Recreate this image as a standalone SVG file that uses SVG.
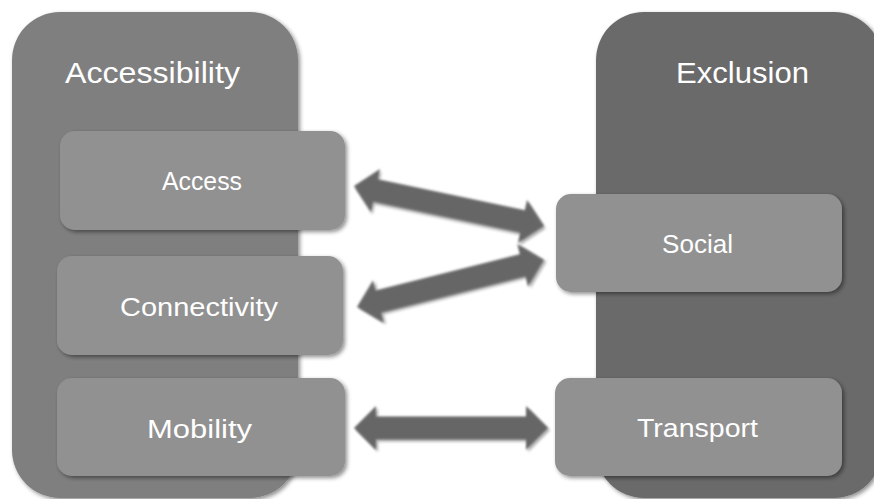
<svg xmlns="http://www.w3.org/2000/svg" width="874" height="499" viewBox="0 0 874 499">
  <defs>
    <style>
      .panel-l { fill: #7f7f7f; }
      .panel-r { fill: #6a6a6a; }
      .box { fill: #919191; }
      .arrow { fill: #666666; }
      .title { font-family: "Liberation Sans", Arial, sans-serif; font-size: 29px; fill: #ffffff; }
      .label { font-family: "Liberation Sans", Arial, sans-serif; font-size: 26px; fill: #ffffff; }
    </style>
    <filter id="shadow" x="-10%" y="-10%" width="120%" height="120%">
      <feDropShadow dx="2" dy="2" stdDeviation="2" flood-color="#000000" flood-opacity="0.45"/>
    </filter>
    <filter id="soft" x="-10%" y="-30%" width="120%" height="160%">
      <feGaussianBlur in="SourceAlpha" stdDeviation="1.5" result="b"/>
      <feOffset in="b" dx="1.5" dy="1.5" result="o"/>
      <feComponentTransfer in="o" result="s"><feFuncA type="linear" slope="0.35"/></feComponentTransfer>
      <feGaussianBlur in="SourceGraphic" stdDeviation="0.8" result="g"/>
      <feMerge><feMergeNode in="s"/><feMergeNode in="g"/></feMerge>
    </filter>
  </defs>

  <rect width="874" height="499" fill="#ffffff"/>

  <!-- Outer panels -->
  <g id="accessibility">
    <rect class="panel-l" x="12" y="12" width="286" height="486" rx="48" filter="url(#shadow)"/>
    <text class="title" x="65" y="83" textLength="175" lengthAdjust="spacingAndGlyphs">Accessibility</text>
  </g>
  <g id="exclusion">
    <rect class="panel-r" x="596" y="12" width="286" height="486" rx="48" filter="url(#shadow)"/>
    <text class="title" x="676" y="83" textLength="133" lengthAdjust="spacingAndGlyphs">Exclusion</text>
  </g>

  <!-- Inner boxes -->
  <g id="access">
    <rect class="box" x="60" y="131" width="285" height="99" rx="15" filter="url(#shadow)"/>
    <text class="label" x="162" y="190" textLength="80" lengthAdjust="spacingAndGlyphs">Access</text>
  </g>
  <g id="connectivity">
    <rect class="box" x="57" y="256" width="286" height="99" rx="15" filter="url(#shadow)"/>
    <text class="label" x="120" y="316" textLength="158" lengthAdjust="spacingAndGlyphs">Connectivity</text>
  </g>
  <g id="mobility">
    <rect class="box" x="57" y="378" width="288" height="98" rx="15" filter="url(#shadow)"/>
    <text class="label" x="147" y="438" textLength="105" lengthAdjust="spacingAndGlyphs">Mobility</text>
  </g>
  <g id="social">
    <rect class="box" x="556" y="194" width="286" height="98" rx="15" filter="url(#shadow)"/>
    <text class="label" x="662" y="253" textLength="71" lengthAdjust="spacingAndGlyphs">Social</text>
  </g>
  <g id="transport">
    <rect class="box" x="555" y="378" width="287" height="98" rx="15" filter="url(#shadow)"/>
    <text class="label" x="637" y="437" textLength="121" lengthAdjust="spacingAndGlyphs">Transport</text>
  </g>

  <!-- Double-headed connectors -->
  <g id="connectors">
    <path class="arrow" filter="url(#soft)" transform="translate(354 186) rotate(11.89)"
          d="M0,0 L22,-22 L22,-11.5 L172.2,-11.5 L172.2,-22 L194.2,0 L172.2,22 L172.2,11.5 L22,11.5 L22,22 Z"/>
    <path class="arrow" filter="url(#soft)" transform="translate(357 307) rotate(-14.11)"
          d="M0,0 L22,-22 L22,-11.5 L170.8,-11.5 L170.8,-22 L192.8,0 L170.8,22 L170.8,11.5 L22,11.5 L22,22 Z"/>
    <path class="arrow" filter="url(#soft)" transform="translate(354 428)"
          d="M0,0 L22,-22 L22,-11.5 L172,-11.5 L172,-22 L194,0 L172,22 L172,11.5 L22,11.5 L22,22 Z"/>
  </g>
</svg>
